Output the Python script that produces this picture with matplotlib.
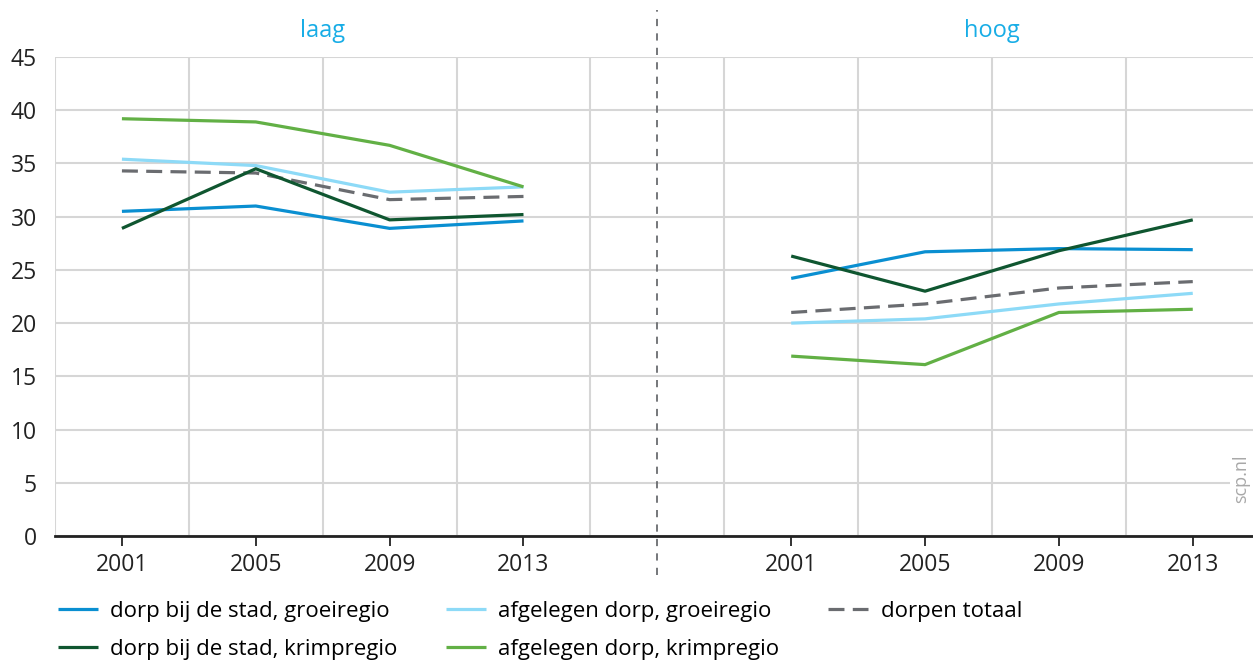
import matplotlib
matplotlib.use("Agg")
from matplotlib import pyplot as plt

years = ["2001", "2005", "2009", "2013"]
panels = ["laag", "hoog"]

# values per series: left panel (laag) then right panel (hoog)
stad_groei_laag = [30.5, 31.0, 28.9, 29.6]
stad_groei_hoog = [24.2, 26.7, 27.0, 26.9]
afgelegen_groei_laag = [35.4, 34.8, 32.3, 32.8]
afgelegen_groei_hoog = [20.0, 20.4, 21.8, 22.8]
totaal_laag = [34.3, 34.1, 31.6, 31.9]
totaal_hoog = [21.0, 21.8, 23.3, 23.9]
stad_krimp_laag = [28.9, 34.5, 29.7, 30.2]
stad_krimp_hoog = [26.3, 23.0, 26.8, 29.7]
afgelegen_krimp_laag = [39.2, 38.9, 36.7, 32.8]
afgelegen_krimp_hoog = [16.9, 16.1, 21.0, 21.3]

labels = ["dorp bij de stad, groeiregio", "afgelegen dorp, groeiregio", "dorpen totaal",
          "dorp bij de stad, krimpregio", "afgelegen dorp, krimpregio"]

plt.rcParams["font.family"] = ["Open Sans", "DejaVu Sans"]

fig = plt.figure(figsize=(12.53, 6.61), dpi=100)
ax = fig.add_axes([55 / 1253, 125 / 661, 1 - 55 / 1253, 479 / 661])

x_laag = [0.5, 1.5, 2.5, 3.5]
x_hoog = [5.5, 6.5, 7.5, 8.5]

series = [
    (stad_groei_laag, stad_groei_hoog, "#0a8fd1", "-"),
    (afgelegen_groei_laag, afgelegen_groei_hoog, "#8ddaf7", "-"),
    (totaal_laag, totaal_hoog, "#6a6c70", "--"),
    (stad_krimp_laag, stad_krimp_hoog, "#0f5630", "-"),
    (afgelegen_krimp_laag, afgelegen_krimp_hoog, "#62b045", "-"),
]
order = [1, 4, 0, 3, 2]  # draw order so overlaps look like the original

handles = [None] * 5
for i in order:
    laag, hoog, col, ls = series[i]
    kw = dict(color=col, lw=2.3, solid_capstyle="butt", zorder=3 + i)
    if ls == "--":
        kw["dashes"] = (5.0, 2.6)
    h, = ax.plot(x_laag, laag, label=labels[i], **kw)
    ax.plot(x_hoog, hoog, **kw)
    handles[i] = h

ax.set_xlim(0, 8.95)
ax.set_ylim(0, 45)
ax.set_yticks(range(0, 46, 5))
ax.set_xticks(x_laag + x_hoog)
ax.set_xticklabels(years + years)
ax.set_xticks(range(0, 9), minor=True)
ax.grid(True, which="minor", axis="x", color="#d6d6d6", lw=1.5, zorder=0)
ax.grid(True, which="major", axis="y", color="#d6d6d6", lw=1.5, zorder=0)
ax.grid(False, which="major", axis="x")

for s in ["top", "right", "left"]:
    ax.spines[s].set_visible(False)
ax.spines["bottom"].set_color("#222222")
ax.spines["bottom"].set_linewidth(2)
ax.spines["bottom"].set_zorder(10)

ax.tick_params(axis="y", length=0, pad=13, labelsize=16.5, labelcolor="#222222")
ax.tick_params(axis="x", which="major", length=7, width=1.3, color="#222222",
               pad=5, labelsize=16.5, labelcolor="#222222")
ax.tick_params(axis="x", which="minor", length=0)

# divider between panels
ax.axvline(4.5, ymin=-0.081, ymax=1.098, color="#6a6c70", lw=1.3,
           dashes=(4, 4), clip_on=False, zorder=2)

for name, xc in zip(panels, [2.0, 7.0]):
    ax.text(xc, 1.055, name, transform=ax.get_xaxis_transform(), ha="center",
            va="center", fontsize=17, color="#18ade6")

ax.text(0.9905, 0.12, "scp.nl", transform=ax.transAxes, rotation=90, ha="center",
        va="center", fontsize=13, color="#a8a8a8",
        bbox=dict(facecolor="white", edgecolor="none", pad=2), zorder=20)

leg_handles = [handles[0], handles[3], handles[1], handles[4], handles[2]]
leg_labels = [labels[0], labels[3], labels[1], labels[4], labels[2]]
fig.legend(leg_handles, leg_labels, ncol=3, loc="lower left",
           bbox_to_anchor=(0.030, -0.028), frameon=False, fontsize=16,
           handlelength=1.8, handletextpad=0.55, columnspacing=2.2,
           labelspacing=0.75)

fig.savefig("out.png", dpi=100)
